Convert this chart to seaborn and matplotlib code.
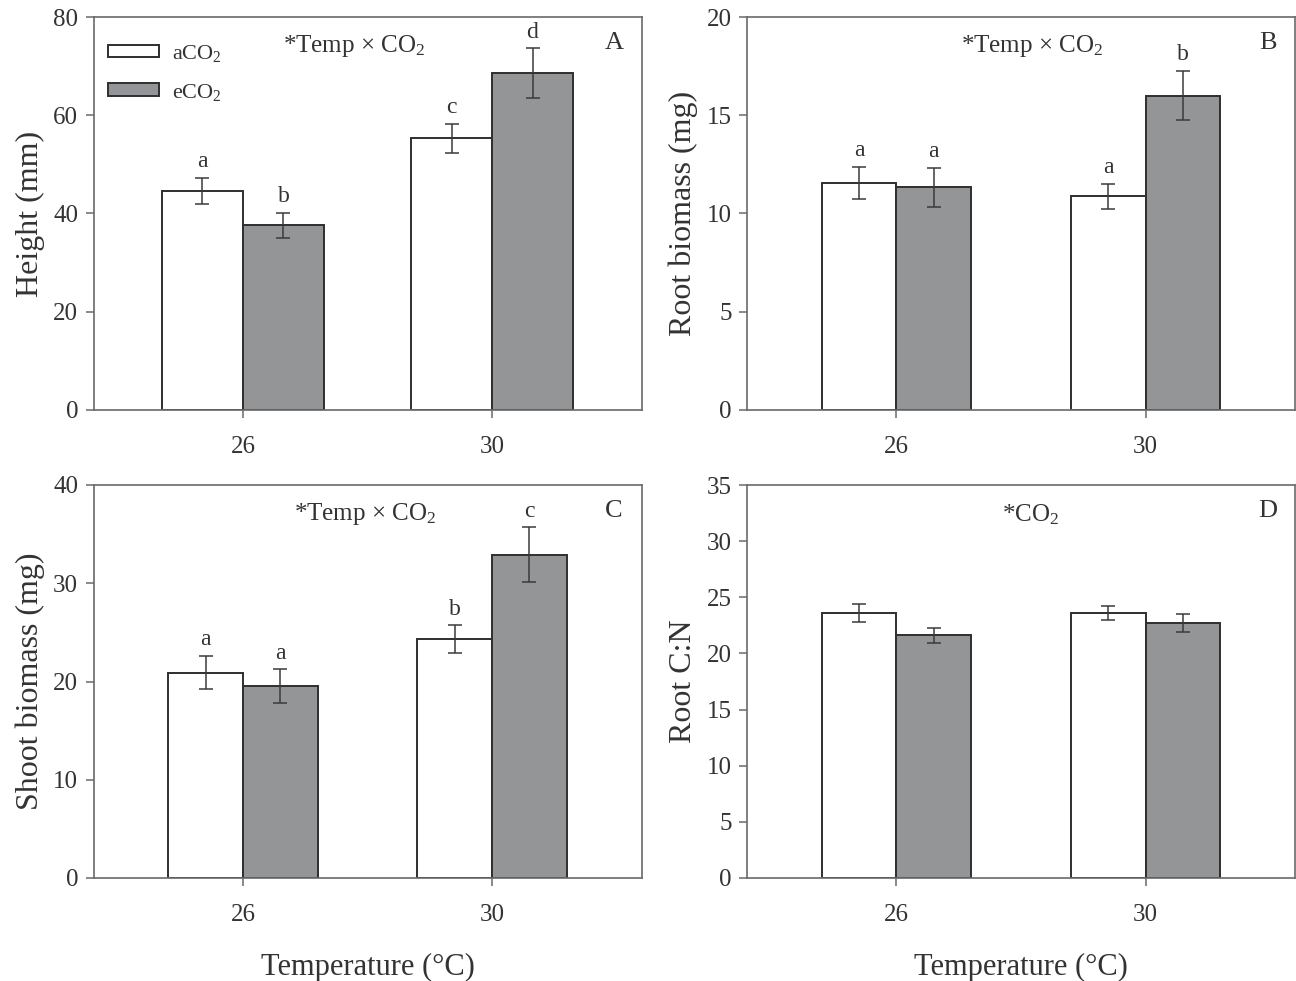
import matplotlib
matplotlib.use("Agg")
import matplotlib.pyplot as plt
from matplotlib.patches import Patch
import numpy as np
import pandas as pd
import seaborn as sns

# Data
temps = ["26", "30"]
co2_levels = ["aCO2", "eCO2"]

height_a = [44.6, 55.3]
height_e = [37.6, 68.6]
height_a_err = [2.7, 3.0]
height_e_err = [2.6, 5.0]
height_letters_a = ["a", "c"]
height_letters_e = ["b", "d"]

root_a = [11.55, 10.87]
root_e = [11.33, 16.0]
root_a_err = [0.83, 0.65]
root_e_err = [1.0, 1.25]
root_letters_a = ["a", "a"]
root_letters_e = ["a", "b"]

shoot_a = [20.9, 24.3]
shoot_e = [19.55, 32.9]
shoot_a_err = [1.7, 1.4]
shoot_e_err = [1.7, 2.8]
shoot_letters_a = ["a", "b"]
shoot_letters_e = ["a", "c"]

cn_a = [23.6, 23.6]
cn_e = [21.6, 22.7]
cn_a_err = [0.8, 0.6]
cn_e_err = [0.7, 0.8]

sns.set_style("ticks")
plt.rcParams["font.family"] = ["Liberation Serif", "DejaVu Serif"]
plt.rcParams["mathtext.fontset"] = "custom"
plt.rcParams["mathtext.rm"] = "Liberation Serif"
plt.rcParams["mathtext.default"] = "regular"

TXT = "#333333"
FRAME = "#6a6a6a"
GRAY = "#939598"
palette = {"aCO2": "white", "eCO2": GRAY}

fig = plt.figure(figsize=(12.96, 9.81), dpi=100)
w, h = 548 / 1296, 393 / 981
ax_a = fig.add_axes([93.5 / 1296, 1 - 410 / 981, w, h])
ax_b = fig.add_axes([747 / 1296, 1 - 410 / 981, w, h])
ax_c = fig.add_axes([93.5 / 1296, 1 - 878 / 981, w, h])
ax_d = fig.add_axes([747 / 1296, 1 - 878 / 981, w, h])


def panel(ax, va, ve, ea, ee, la, le, ymax, ystep, ylabel, tag, note, note_x, width, xlabel=None):
    df = pd.DataFrame({
        "temp": temps * 2,
        "co2": [co2_levels[0]] * 2 + [co2_levels[1]] * 2,
        "value": va + ve,
    })
    sns.barplot(data=df, x="temp", y="value", hue="co2", hue_order=co2_levels,
                palette=palette, edgecolor="#2f2f2f", linewidth=1.4,
                width=width, errorbar=None, legend=False, ax=ax)
    errs = [ea, ee]
    letters = [la, le]
    bar_sets = list(ax.containers)
    for i, cont in enumerate(bar_sets):
        xs = [b.get_x() + b.get_width() / 2 for b in cont]
        hs = [b.get_height() for b in cont]
        ax.errorbar(xs, hs, yerr=errs[i], fmt="none", ecolor="#3a3a3a",
                    elinewidth=1.1, capsize=5, capthick=1.1, zorder=5)
        if letters[i] is not None:
            for x, y, e, t in zip(xs, hs, errs[i], letters[i]):
                ax.annotate(t, (x, y + e), xytext=(0, 4), textcoords="offset points",
                            ha="center", va="bottom", fontsize=17, color=TXT)
    ax.set_xlim(-0.6, 1.6)
    ax.set_ylim(0, ymax)
    ax.set_yticks(np.arange(0, ymax + 0.01, ystep))
    ax.set_ylabel(ylabel, fontsize=23, color=TXT, labelpad=6)
    ax.set_xlabel(xlabel if xlabel else "", fontsize=22, color=TXT, labelpad=19)
    ax.tick_params(axis="y", direction="out", length=6, width=1.1, pad=5,
                   labelsize=18, colors=FRAME, labelcolor=TXT)
    ax.tick_params(axis="x", direction="out", length=6, width=1.1, pad=13,
                   labelsize=18, colors=FRAME, labelcolor=TXT)
    for sp in ax.spines.values():
        sp.set_visible(True)
        sp.set_color(FRAME)
        sp.set_linewidth(1.2)
    ax.text(0.95, 0.935, tag, transform=ax.transAxes, ha="center", va="center",
            fontsize=19, color=TXT)
    ax.text(note_x, 0.925, note, transform=ax.transAxes, ha="center", va="center",
            fontsize=18, color=TXT)


panel(ax_a, height_a, height_e, height_a_err, height_e_err, height_letters_a,
      height_letters_e, 80, 20, "Height (mm)", "A", r"*Temp $\times$ CO$_2$", 0.475, 0.65)
panel(ax_b, root_a, root_e, root_a_err, root_e_err, root_letters_a,
      root_letters_e, 20, 5, "Root biomass (mg)", "B", r"*Temp $\times$ CO$_2$", 0.52, 0.6)
panel(ax_c, shoot_a, shoot_e, shoot_a_err, shoot_e_err, shoot_letters_a,
      shoot_letters_e, 40, 10, "Shoot biomass (mg)", "C", r"*Temp $\times$ CO$_2$", 0.495, 0.6,
      xlabel="Temperature (°C)")
panel(ax_d, cn_a, cn_e, cn_a_err, cn_e_err, None, None, 35, 5, "Root C:N", "D",
      r"*CO$_2$", 0.518, 0.6, xlabel="Temperature (°C)")

handles = [Patch(facecolor=palette[c], edgecolor="#2f2f2f", linewidth=1.4) for c in co2_levels]
ax_a.legend(handles, ["aCO$_2$", "eCO$_2$"], loc="upper left", bbox_to_anchor=(-0.01, 0.985),
            frameon=False, fontsize=16, handlelength=2.3, handleheight=0.5,
            handletextpad=0.6, labelspacing=0.8, labelcolor=TXT)

fig.savefig("out.png", dpi=100)
